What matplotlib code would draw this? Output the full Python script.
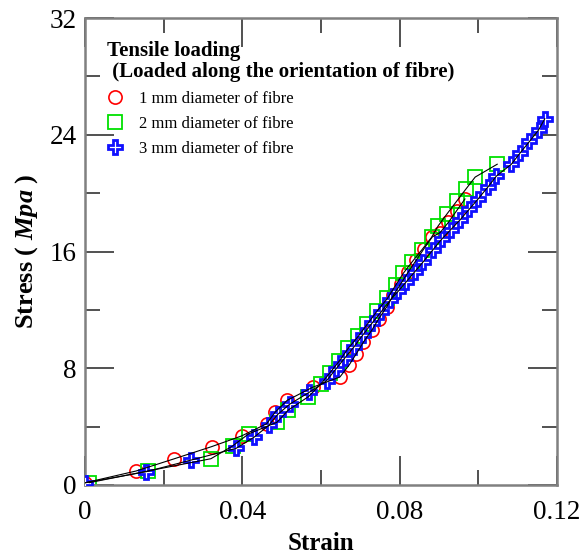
import matplotlib
matplotlib.use("Agg")
import matplotlib.pyplot as plt
from matplotlib.lines import Line2D
from matplotlib.ticker import MultipleLocator

# datos: deformacion (strain) y esfuerzo (MPa)
strain_1mm = [0, 0.013, 0.0225, 0.0322, 0.0398, 0.0462, 0.0483, 0.0514, 0.0579, 0.0648,
              0.0671, 0.069, 0.0708, 0.0729, 0.0747, 0.0767, 0.0784, 0.0803, 0.0822, 0.0842,
              0.0862, 0.0883, 0.0903, 0.0924, 0.0945, 0.0966]
stress_1mm = [0.15, 0.96, 1.78, 2.63, 3.36, 4.2, 4.98, 5.8, 6.7, 7.4,
              8.2, 9.0, 9.8, 10.6, 11.4, 12.2, 13.0, 13.8, 14.6, 15.4,
              16.2, 17.0, 17.3, 18.0, 18.8, 19.6]

strain_2mm = [0.0011, 0.016, 0.032, 0.0375, 0.0416, 0.0488, 0.0517, 0.0568, 0.0599, 0.0623,
              0.0647, 0.0669, 0.0695, 0.0718, 0.0742, 0.0769, 0.079, 0.0809, 0.0832, 0.0856,
              0.0881, 0.0898, 0.0921, 0.0945, 0.0969, 0.0992, 0.1048]
stress_2mm = [0.16, 0.96, 1.8, 2.67, 3.5, 4.3, 5.14, 6.05, 6.9, 7.7,
              8.51, 9.36, 10.2, 11.03, 11.9, 12.79, 13.7, 14.5, 15.3, 16.1,
              16.97, 17.76, 18.6, 19.45, 20.3, 21.1, 21.98]

strain_3mm = [0, 0.0155, 0.027, 0.0384, 0.043, 0.0467, 0.049, 0.0521, 0.057, 0.0614,
              0.0637, 0.0661, 0.0684, 0.0706, 0.0729, 0.0753, 0.0776, 0.0797, 0.0816, 0.0838,
              0.086, 0.0884, 0.0907, 0.093, 0.0953, 0.0977, 0.1, 0.1024, 0.1046, 0.1084,
              0.1107, 0.113, 0.1153, 0.1169]
stress_3mm = [0.15, 0.91, 1.71, 2.51, 3.28, 4.08, 4.84, 5.55, 6.35, 7.14,
              7.92, 8.72, 9.47, 10.27, 11.07, 11.87, 12.67, 13.3, 13.9, 14.6,
              15.3, 16.1, 16.85, 17.5, 18.15, 18.9, 19.62, 20.41, 21.17, 21.98,
              22.78, 23.54, 24.32, 25.1]

etiquetas = ["1 mm diameter of fibre", "2 mm diameter of fibre", "3 mm diameter of fibre"]

plt.rcParams['font.family'] = ['Liberation Serif', 'DejaVu Serif']
plt.rcParams['mathtext.fontset'] = 'custom'
plt.rcParams['mathtext.rm'] = 'Liberation Serif'
plt.rcParams['mathtext.it'] = 'Liberation Serif:italic'
plt.rcParams['mathtext.bf'] = 'Liberation Serif:bold'
plt.rcParams['mathtext.bfit'] = 'Liberation Serif:bold:italic'

fig = plt.figure(figsize=(5.81, 5.55), dpi=100)
ax = fig.add_axes([85/581, 1-485/555, (557-85)/581, (485-18)/555])

# marcadores (debajo) y lineas negras (encima)
ax.plot(strain_1mm, stress_1mm, 'o', ms=9.5, mfc='none', mec='red', mew=1.2, zorder=2)
ax.plot(strain_2mm, stress_2mm, 's', ms=10.5, mfc='none', mec='#00e000', mew=1.3, zorder=2)
ax.plot(strain_3mm, stress_3mm, 'P', ms=10.5, mfc='white', mec='#1010ff', mew=2.0, zorder=3)
for xs, ys in [(strain_1mm, stress_1mm), (strain_2mm, stress_2mm), (strain_3mm, stress_3mm)]:
    ax.plot(xs, ys, '-', color='black', lw=0.8, zorder=4)

ax.set_xlim(0, 0.12)
ax.set_ylim(0, 32)
ax.xaxis.set_major_locator(MultipleLocator(0.04))
ax.xaxis.set_minor_locator(MultipleLocator(0.02))
ax.yaxis.set_major_locator(MultipleLocator(8))
ax.yaxis.set_minor_locator(MultipleLocator(4))
ax.set_xticks([0, 0.04, 0.08, 0.12], ['0', '0.04', '0.08', '0.12'])
ax.tick_params(which='both', direction='in', top=True, right=True, color='#333333', width=1.2)
ax.tick_params(which='major', length=21, labelsize=19.5)
ax.tick_params(axis='y', which='major', pad=6)
ax.tick_params(axis='x', which='major', pad=11)
ax.tick_params(which='minor', length=10.5)
for s in ax.spines.values():
    s.set_color('#808080')
    s.set_linewidth(1.8)

ax.set_xlabel('Strain', fontsize=18, fontweight='bold')
ax.set_ylabel(r'Stress ( $\mathbfit{Mpa}$ )', fontsize=19, fontweight='bold')
ax.xaxis.set_label_coords(0.5, -0.1)
ax.yaxis.set_label_coords(-0.095, 0.5)

handles = [
    Line2D([], [], ls='none', marker='o', ms=9.5, mfc='none', mec='red', mew=1.2),
    Line2D([], [], ls='none', marker='s', ms=10.5, mfc='none', mec='#00e000', mew=1.3),
    Line2D([], [], ls='none', marker='P', ms=10.5, mfc='white', mec='#1010ff', mew=2.0),
]
ley = ax.legend(handles, etiquetas, loc='upper left', bbox_to_anchor=(107/581, 1-41/555),
                bbox_transform=fig.transFigure, frameon=False, fontsize=12,
                title='Tensile loading\n (Loaded along the orientation of fibre)',
                title_fontproperties={'weight': 'bold', 'size': 15}, alignment='left',
                handlelength=1.0, handletextpad=0.9, labelspacing=0.55, borderpad=0,
                borderaxespad=0)
ley.get_title().set_linespacing(1.05)

fig.savefig('out.png', dpi=100)
